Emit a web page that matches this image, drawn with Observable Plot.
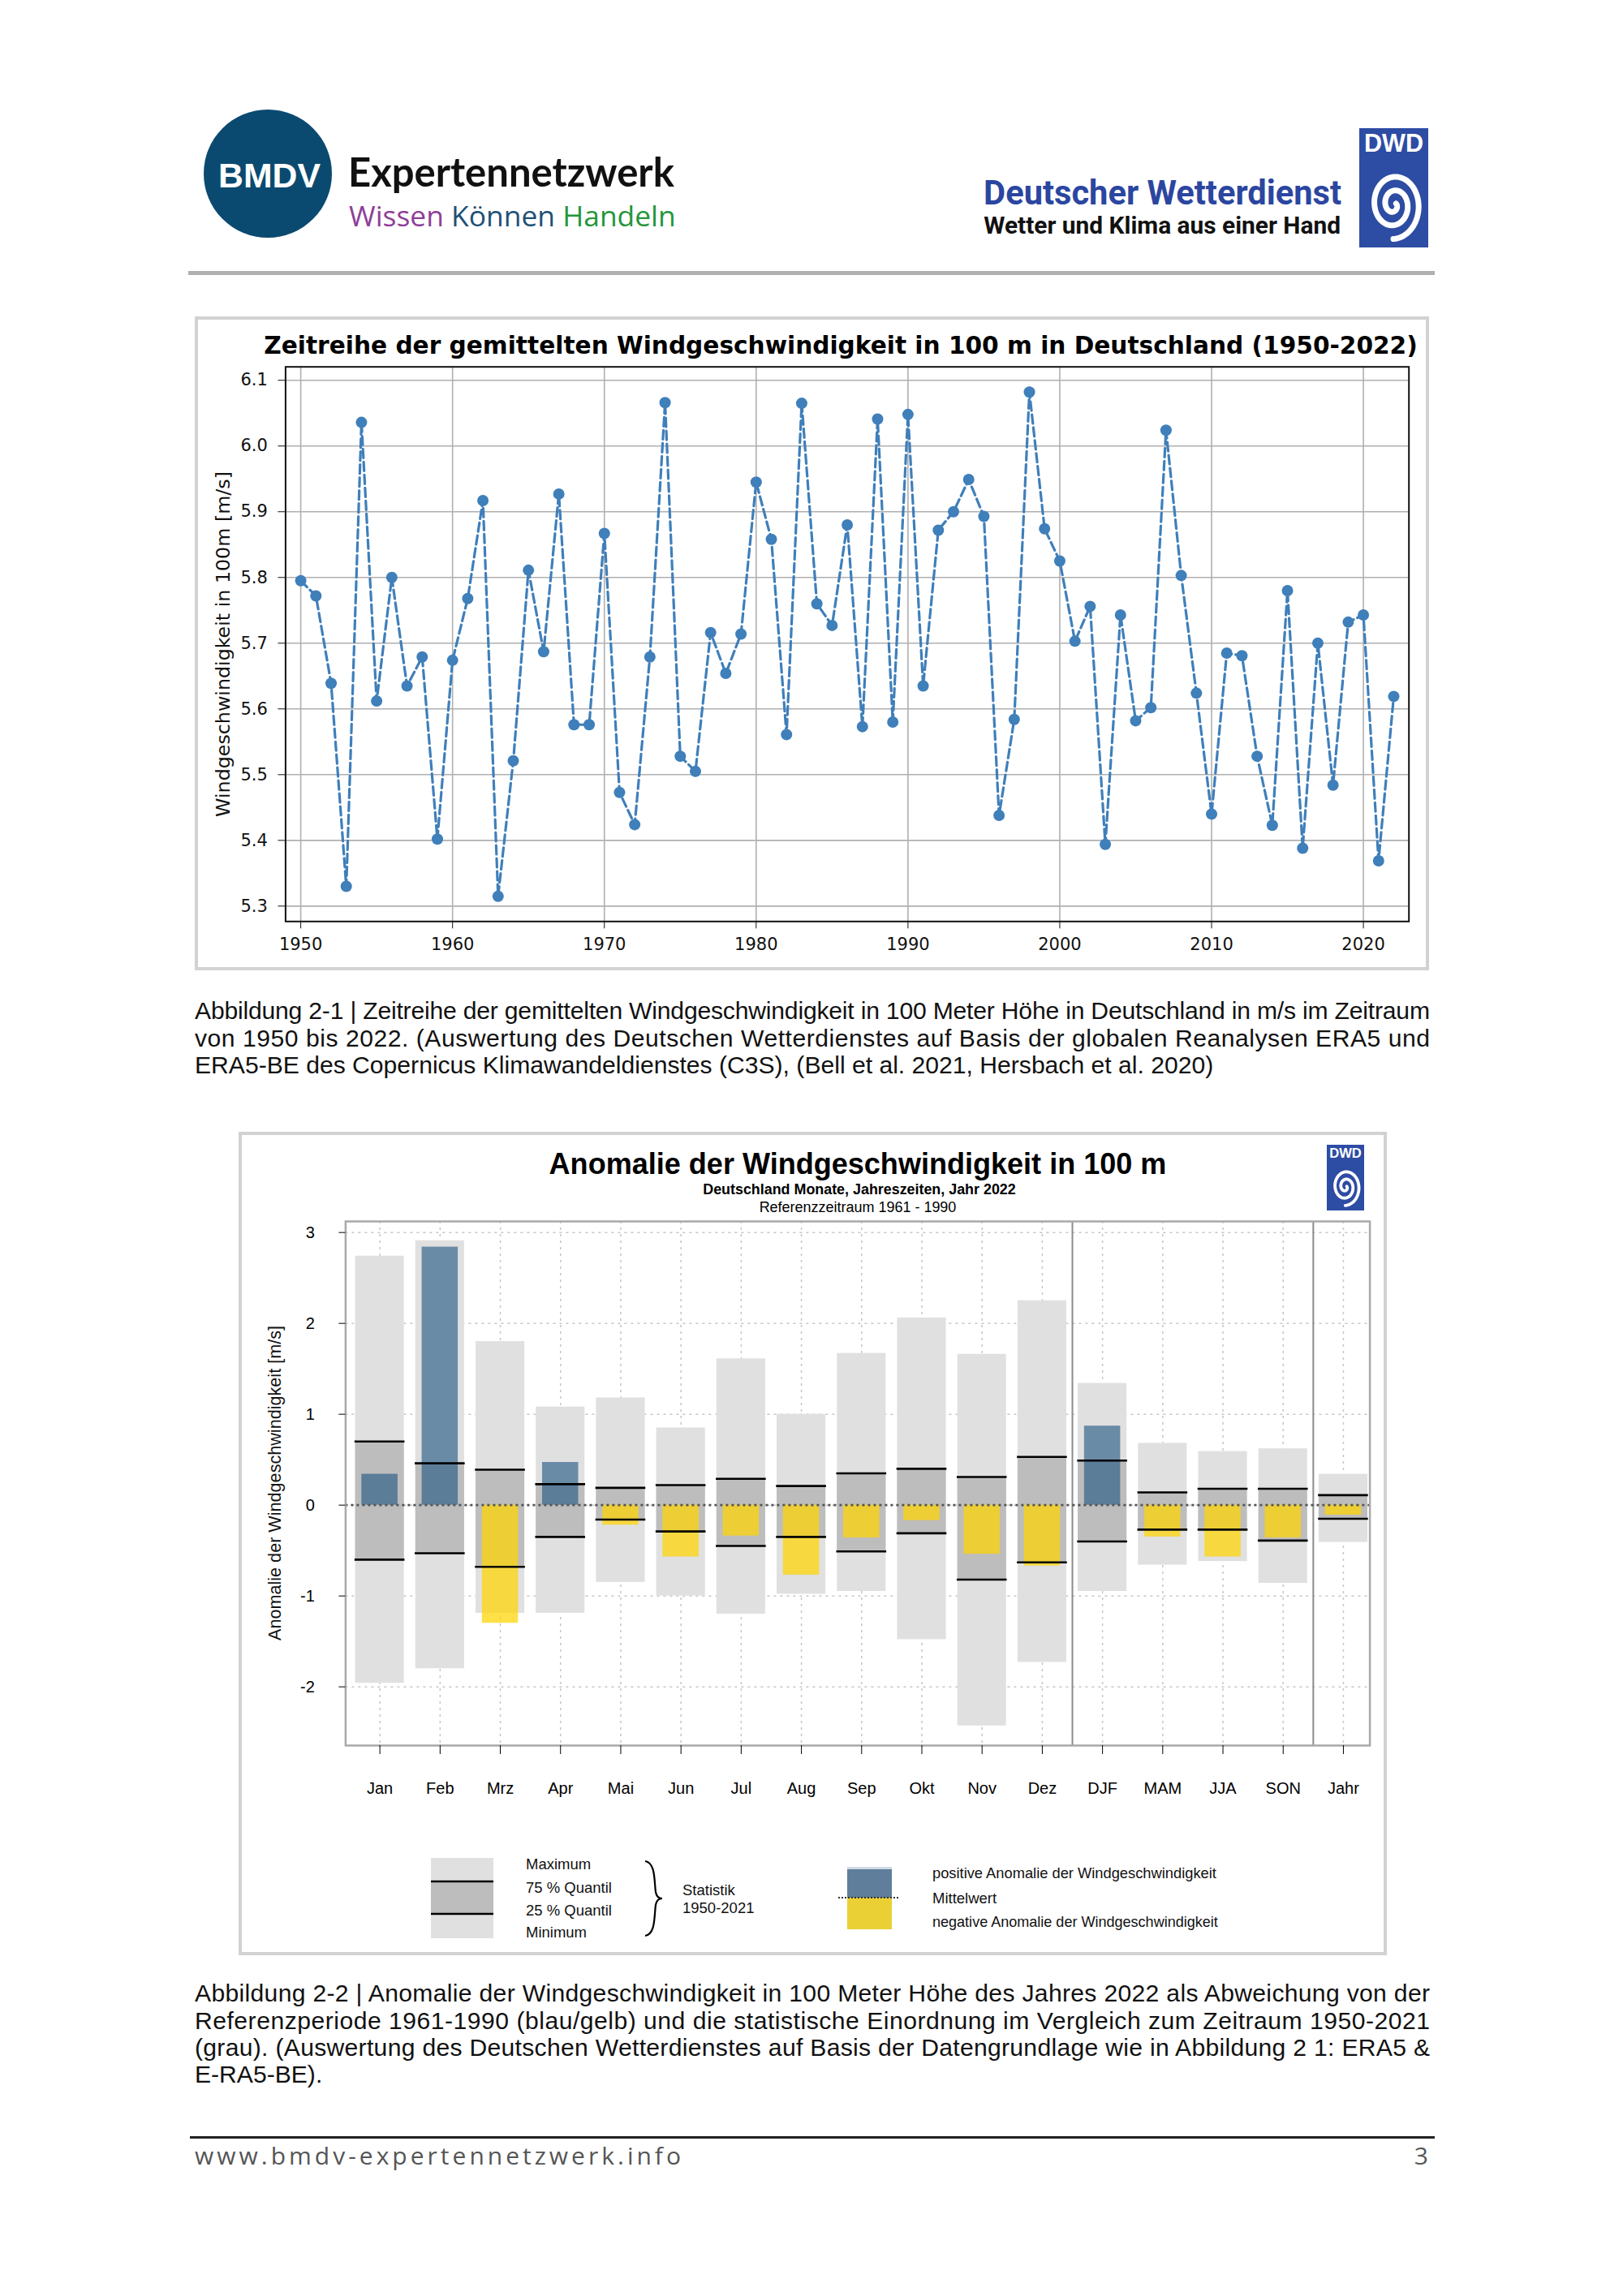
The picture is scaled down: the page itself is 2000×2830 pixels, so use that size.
<!DOCTYPE html>
<html><head><meta charset="utf-8">
<script src="https://cdn.jsdelivr.net/npm/d3@7"></script>
<script src="https://cdn.jsdelivr.net/npm/@observablehq/plot@0.6"></script>
<style>
html,body{margin:0;padding:0;background:#fff;}
body{width:2000px;height:2830px;position:relative;overflow:hidden;}
#bg{position:absolute;left:0;top:0;}
.plot{position:absolute;}
.plot svg{overflow:visible;}
</style></head><body>
<svg id="bg" width="2000" height="2830" xmlns="http://www.w3.org/2000/svg"></svg>
<div id="p1" class="plot" style="left:242px;top:392px;"></div>
<div id="p2" class="plot" style="left:297px;top:1500px;"></div>
<script>
// ---------- Chart 1 data: annual mean wind speed at 100 m (m/s) ----------
const years = [1950,1951,1952,1953,1954,1955,1956,1957,1958,1959,
  1960,1961,1962,1963,1964,1965,1966,1967,1968,1969,
  1970,1971,1972,1973,1974,1975,1976,1977,1978,1979,
  1980,1981,1982,1983,1984,1985,1986,1987,1988,1989,
  1990,1991,1992,1993,1994,1995,1996,1997,1998,1999,
  2000,2001,2002,2003,2004,2005,2006,2007,2008,2009,
  2010,2011,2012,2013,2014,2015,2016,2017,2018,2019,
  2020,2021,2022];
const windSpeed = [5.795,5.772,5.639,5.330,6.036,5.612,5.800,5.635,5.679,5.402,
  5.674,5.768,5.917,5.315,5.521,5.811,5.687,5.927,5.576,5.576,
  5.867,5.473,5.424,5.679,6.066,5.528,5.505,5.716,5.654,5.714,
  5.945,5.858,5.561,6.065,5.760,5.727,5.880,5.573,6.041,5.580,
  6.048,5.635,5.872,5.900,5.949,5.893,5.438,5.584,6.082,5.874,
  5.825,5.703,5.756,5.394,5.743,5.582,5.602,6.024,5.803,5.624,
  5.440,5.685,5.681,5.528,5.423,5.780,5.388,5.700,5.484,5.732,
  5.743,5.369,5.619];
const xTicks1 = [1950,1960,1970,1980,1990,2000,2010,2020];
const yTicks1 = [5.3,5.4,5.5,5.6,5.7,5.8,5.9,6.0,6.1];

// ---------- Chart 2 data: anomaly 2022 vs 1961-1990, stats 1950-2021 (m/s) ----------
const cats = ["Jan","Feb","Mrz","Apr","Mai","Jun","Jul","Aug","Sep","Okt","Nov","Dez","DJF","MAM","JJA","SON","Jahr"];
const maxV = [2.74,2.91,1.80,1.08,1.18,0.85,1.61,1.00,1.67,2.06,1.66,2.25,1.34,0.68,0.59,0.62,0.34];
const q75V = [0.70,0.46,0.39,0.23,0.19,0.22,0.29,0.21,0.35,0.40,0.31,0.53,0.49,0.14,0.18,0.18,0.11];
const q25V = [-0.60,-0.53,-0.68,-0.35,-0.16,-0.29,-0.45,-0.35,-0.51,-0.31,-0.82,-0.63,-0.40,-0.27,-0.27,-0.39,-0.15];
const minV = [-1.96,-1.80,-1.19,-1.19,-0.85,-1.00,-1.20,-0.98,-0.95,-1.48,-2.43,-1.73,-0.95,-0.66,-0.62,-0.86,-0.41];
const anom2022 = [0.34,2.84,-1.30,0.47,-0.22,-0.57,-0.34,-0.77,-0.36,-0.17,-0.54,-0.67,0.87,-0.35,-0.57,-0.36,-0.11];
const yTicks2 = [-2,-1,0,1,2,3];

// ---------- background page elements ----------
const NS = "http://www.w3.org/2000/svg";
const bg = document.getElementById("bg");
function el(tag, attrs, parent = bg) {
  const e = document.createElementNS(NS, tag);
  for (const k in attrs) e.setAttribute(k, attrs[k]);
  parent.appendChild(e);
  return e;
}
function txt(s, x, y, o = {}) {
  const t = el("text", {
    x: o.rotate ? 0 : x, y: o.rotate ? 0 : y,
    "font-family": o.family || "Liberation Sans, Arial, sans-serif",
    "font-size": o.size || 20, "font-weight": o.weight || "normal",
    fill: o.fill || "#000", "text-anchor": o.anchor || "start"
  }, o.parent || bg);
  if (o.rotate) t.setAttribute("transform", `translate(${x},${y}) rotate(${o.rotate})`);
  if (Array.isArray(s)) {
    s.forEach(([str, col]) => { const ts = el("tspan", {fill: col}, t); ts.textContent = str; });
  } else t.textContent = s;
  if (o.fit) { // scale font size so that the text has the given width
    const w = t.getComputedTextLength();
    t.setAttribute("font-size", (o.size || 20) * o.fit / w);
  }
  if (o.width) { t.setAttribute("textLength", o.width); t.setAttribute("lengthAdjust", o.adjust || "spacing"); }
  return t;
}
function spiralPath(cx, cy, r0, r1, turns, sy, phase) {
  let d = "";
  const n = 160;
  for (let k = 0; k <= n; k++) {
    const t = k / n, th = phase + t * turns * 2 * Math.PI, r = r0 + (r1 - r0) * t;
    d += (k ? "L" : "M") + (cx + r * Math.cos(th)).toFixed(2) + "," + (cy + r * Math.sin(th) * sy).toFixed(2);
  }
  return d;
}
function dwdLogo(x, y, w, h, s) {
  el("rect", {x, y, width: w, height: h, fill: "#2d4ca3"});
  txt("DWD", x + w / 2, y + 29 * s, {size: 30 * s, weight: "bold", fill: "#fff", anchor: "middle", fit: w * 0.86});
  el("path", {d: spiralPath(x + w / 2, y + h * 0.64, 3 * s, 34 * s, 2.3, 1.25, -0.3), fill: "none", stroke: "#fff", "stroke-width": 7 * s, "stroke-linecap": "round"});
}

// header
el("circle", {cx: 330, cy: 214, r: 79, fill: "#0b4a70"});
txt("BMDV", 332, 231, {size: 46, weight: "bold", fill: "#fff", anchor: "middle", fit: 126});
txt("Expertennetzwerk", 429, 230, {size: 46, family: "Lato, sans-serif", weight: "bold", fill: "#111", fit: 402});
txt([["Wissen ", "#8e3f97"], ["Können ", "#1e5176"], ["Handeln", "#23963a"]], 430, 279, {size: 34, family: "Open Sans, sans-serif", fit: 403});
txt("Deutscher Wetterdienst", 1653, 252, {size: 36, weight: "bold", family: "Roboto, sans-serif", fill: "#2b46a0", anchor: "end", fit: 441});
txt("Wetter und Klima aus einer Hand", 1652, 288, {size: 28, weight: "bold", family: "Roboto, sans-serif", fill: "#111", anchor: "end", fit: 440});
dwdLogo(1675, 158, 85, 147, 1);
el("rect", {x: 232, y: 334, width: 1536, height: 5, fill: "#b0b0b0"});

// chart 1 box, title, label
el("rect", {x: 242, y: 392, width: 1517, height: 802, fill: "none", stroke: "#d2d2d2", "stroke-width": 4});
txt("Zeitreihe der gemittelten Windgeschwindigkeit in 100 m in Deutschland (1950-2022)", 1036, 436,
  {size: 30, weight: "bold", family: "DejaVu Sans, sans-serif", anchor: "middle", fill: "#000", fit: 1422});
txt("Windgeschwindigkeit in 100m [m/s]", 283, 794, {size: 22, family: "DejaVu Sans, sans-serif", anchor: "middle", rotate: -90, fill: "#111", fit: 426});

// caption 1
const capX = 240, capW = 1522;
const probe = txt("ERA5-BE des Copernicus Klimawandeldienstes (C3S), (Bell et al. 2021, Hersbach et al. 2020)", capX, 1323, {size: 27, fill: "#111", fit: 1256});
const capSize = +probe.getAttribute("font-size");
const cap1 = [
  "Abbildung 2-1 | Zeitreihe der gemittelten Windgeschwindigkeit in 100 Meter Höhe in Deutschland in m/s im Zeitraum",
  "von 1950 bis 2022. (Auswertung des Deutschen Wetterdienstes auf Basis der globalen Reanalysen ERA5 und"];
cap1.forEach((s, k) => txt(s, capX, 1256 + k * 33.5, {size: capSize, fill: "#111", width: capW}));

// chart 2 box, titles, label, legend
el("rect", {x: 296, y: 1397, width: 1411, height: 1011, fill: "none", stroke: "#d2d2d2", "stroke-width": 4});
dwdLogo(1635, 1411, 46, 81, 0.54);
txt("Anomalie der Windgeschwindigkeit in 100 m", 1057, 1447, {size: 33, weight: "bold", anchor: "middle", fit: 761});
txt("Deutschland Monate, Jahreszeiten, Jahr 2022", 1059, 1472, {size: 17, weight: "bold", anchor: "middle", fit: 386});
txt("Referenzzeitraum 1961 - 1990", 1057, 1494, {size: 17, anchor: "middle", fit: 243});
txt("Anomalie der Windgeschwindigkeit [m/s]", 346, 1828, {size: 21, anchor: "middle", rotate: -90, fill: "#111", fit: 388});

// legend (left: statistics)
el("rect", {x: 531, y: 2290, width: 77, height: 99, fill: "#e0e0e0"});
el("rect", {x: 531, y: 2319, width: 77, height: 40, fill: "#bdbdbd"});
el("line", {x1: 531, x2: 608, y1: 2319, y2: 2319, stroke: "#000", "stroke-width": 2.6});
el("line", {x1: 531, x2: 608, y1: 2359, y2: 2359, stroke: "#000", "stroke-width": 2.6});
[["Maximum", 2304], ["75 % Quantil", 2333], ["25 % Quantil", 2361], ["Minimum", 2388]]
  .forEach(([s, y]) => txt(s, 648, y, {size: 18.5, fill: "#111"}));
el("path", {d: "M795,2294 C808,2296 806,2318 808,2332 C809,2338 812,2340 816,2340 C812,2340 809,2342 808,2348 C806,2362 808,2384 795,2386", fill: "none", stroke: "#000", "stroke-width": 2.2});
txt("Statistik", 841, 2336, {size: 18.5, fill: "#111"});
txt("1950-2021", 841, 2358, {size: 18.5, fill: "#111"});
// legend (right: anomaly)
el("rect", {x: 1044, y: 2301, width: 55, height: 3, fill: "#cfdbe6"});
el("rect", {x: 1044, y: 2304, width: 55, height: 35, fill: "#5f7e9c"});
el("rect", {x: 1044, y: 2339, width: 55, height: 39, fill: "#ead035"});
el("line", {x1: 1033, x2: 1108, y1: 2339, y2: 2339, stroke: "#333", "stroke-width": 2, "stroke-dasharray": "2,2"});
txt("positive Anomalie der Windgeschwindigkeit", 1149, 2315, {size: 18.5, fill: "#111", fit: 350});
txt("Mittelwert", 1149, 2346, {size: 18.5, fill: "#111"});
txt("negative Anomalie der Windgeschwindigkeit", 1149, 2375, {size: 18.5, fill: "#111", fit: 352});

// caption 2
const cap2 = [
  "Abbildung 2-2 | Anomalie der Windgeschwindigkeit in 100 Meter Höhe des Jahres 2022 als Abweichung von der",
  "Referenzperiode 1961-1990 (blau/gelb) und die statistische Einordnung im Vergleich zum Zeitraum 1950-2021",
  "(grau). (Auswertung des Deutschen Wetterdienstes auf Basis der Datengrundlage wie in Abbildung 2 1: ERA5 &"];
cap2.forEach((s, k) => txt(s, capX, 2467 + k * 33.5, {size: capSize, fill: "#111", width: capW}));
txt("E-RA5-BE).", capX, 2567, {size: capSize, fill: "#111"});

// footer
el("rect", {x: 234, y: 2633, width: 1534, height: 3, fill: "#222"});
txt("www.bmdv-expertennetzwerk.info", 240, 2668, {size: 30, family: "Open Sans, sans-serif", fill: "#555", width: 599, adjust: "spacing"});
txt("3", 1760, 2668, {size: 30, family: "Open Sans, sans-serif", fill: "#555", anchor: "end"});

// ---------- Chart 1 (Plot) ----------
const series1 = years.map((y, i) => ({year: y, v: windSpeed[i]}));
const blue1 = "#3f7fba";
const plot1 = Plot.plot({
  width: 1517, height: 802,
  marginLeft: 109.4, marginRight: 23.3, marginTop: 59.7, marginBottom: 58.7,
  x: {domain: [1949, 2023]},
  y: {domain: [5.2766, 6.1204]},
  style: {fontFamily: "DejaVu Sans, sans-serif", fontSize: "21px", color: "#111", background: "transparent", overflow: "visible"},
  marks: [
    Plot.gridX({ticks: xTicks1, stroke: "#b0b0b0", strokeOpacity: 1, strokeWidth: 1.6}),
    Plot.gridY({ticks: yTicks1, stroke: "#b0b0b0", strokeOpacity: 1, strokeWidth: 1.6}),
    Plot.line(series1, {x: "year", y: "v", stroke: blue1, strokeWidth: 3.2, strokeDasharray: "11,5"}),
    Plot.dot(series1, {x: "year", y: "v", r: 7, fill: blue1}),
    Plot.frame({stroke: "#111", strokeWidth: 2}),
    Plot.axisX({ticks: xTicks1, tickFormat: d => String(d), tickSize: 9, tickPadding: 11, label: null}),
    Plot.axisY({ticks: yTicks1, tickFormat: d3.format(".1f"), tickSize: 9, tickPadding: 13, label: null})
  ]
});
document.getElementById("p1").appendChild(plot1);

// ---------- Chart 2 (Plot) ----------
const rows = cats.map((c, i) => ({i, c, max: maxV[i], q75: q75V[i], q25: q25V[i], min: minV[i], a: anom2022[i]}));
const plot2 = Plot.plot({
  width: 1408, height: 730,
  marginLeft: 128.4, marginRight: 17.4, marginTop: 5, marginBottom: 79,
  x: {domain: [-0.569, 16.44]},
  y: {domain: [-2.646, 3.122]},
  style: {fontFamily: "Liberation Sans, Arial, sans-serif", fontSize: "20px", color: "#000", background: "transparent", overflow: "visible"},
  marks: [
    Plot.gridY({ticks: yTicks2, stroke: "#c6c6c6", strokeOpacity: 1, strokeWidth: 1.5, strokeDasharray: "3,5"}),
    Plot.gridX({ticks: rows.map(d => d.i), stroke: "#c6c6c6", strokeOpacity: 1, strokeWidth: 1.5, strokeDasharray: "3,5"}),
    Plot.rect(rows, {x1: d => d.i - 0.405, x2: d => d.i + 0.405, y1: "min", y2: "max", fill: "#e0e0e0"}),
    Plot.rect(rows, {x1: d => d.i - 0.405, x2: d => d.i + 0.405, y1: "q25", y2: "q75", fill: "#bdbdbd"}),
    Plot.rect(rows.filter(d => d.a > 0), {x1: d => d.i - 0.3, x2: d => d.i + 0.3, y1: 0, y2: "a", fill: "#1b517f", fillOpacity: 0.6}),
    Plot.rect(rows.filter(d => d.a < 0), {x1: d => d.i - 0.3, x2: d => d.i + 0.3, y1: 0, y2: "a", fill: "#ffd400", fillOpacity: 0.72}),
    Plot.ruleY(rows, {y: "q75", x1: d => d.i - 0.415, x2: d => d.i + 0.415, stroke: "#000", strokeWidth: 2.6}),
    Plot.ruleY(rows, {y: "q25", x1: d => d.i - 0.415, x2: d => d.i + 0.415, stroke: "#000", strokeWidth: 2.6}),
    Plot.ruleX([11.5, 15.5], {stroke: "#8c8c8c", strokeWidth: 2}),
    Plot.ruleY([0], {stroke: "#555", strokeWidth: 2.6, strokeDasharray: "3,4"}),
    Plot.frame({stroke: "#a9a9a9", strokeWidth: 2.5}),
    Plot.axisY({ticks: yTicks2, tickFormat: d => String(d), tickSize: 8, tickPadding: 30, label: null}),
    Plot.axisX({ticks: rows.map(d => d.i), tickFormat: i => cats[i], tickSize: 11, tickPadding: 34, label: null})
  ]
});
document.getElementById("p2").appendChild(plot2);
</script>
</body></html>
